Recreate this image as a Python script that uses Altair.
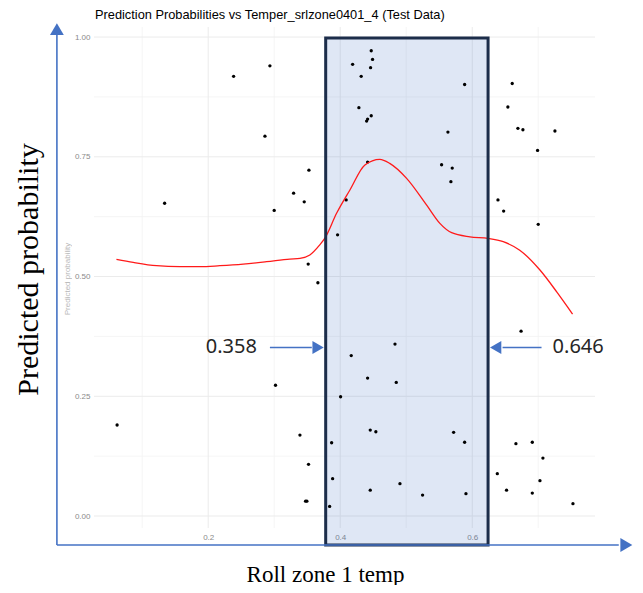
import altair as alt
import pandas as pd

# ---------------- data ----------------
pts_x = [0.062, 0.134, 0.2385, 0.2935, 0.286, 0.300, 0.302, 0.3294, 0.339, 0.3455,
         0.3475, 0.3495, 0.3515, 0.352, 0.3526, 0.3662, 0.384, 0.387, 0.3885, 0.396,
         0.4006, 0.409, 0.4167, 0.4188, 0.4283, 0.4318, 0.440, 0.4415, 0.4415, 0.4415,
         0.4455, 0.4455, 0.446, 0.447, 0.447, 0.449, 0.454, 0.483, 0.4849, 0.4905,
         0.5248, 0.5536, 0.5632, 0.5677, 0.5697, 0.5718, 0.5885, 0.5885, 0.5905, 0.638,
         0.639, 0.6476, 0.652, 0.654, 0.6606, 0.6662, 0.6692, 0.674, 0.6768, 0.691,
         0.691, 0.699, 0.700, 0.7026, 0.7071, 0.7253, 0.7526]
pts_y = [0.190, 0.653, 0.918, 0.940, 0.793, 0.638, 0.273, 0.674, 0.169, 0.656,
         0.031, 0.031, 0.526, 0.108, 0.722, 0.487, 0.020, 0.153, 0.078, 0.587,
         0.249, 0.660, 0.335, 0.943, 0.8525, 0.918, 0.8246, 0.8288, 0.739, 0.288,
         0.1795, 0.054, 0.936, 0.9714, 0.8357, 0.9534, 0.176, 0.359, 0.279, 0.0675,
         0.0438, 0.7334, 0.8017, 0.698, 0.7265, 0.1747, 0.901, 0.154, 0.0466, 0.0884,
         0.660, 0.6367, 0.054, 0.854, 0.903, 0.151, 0.8094, 0.386, 0.8065, 0.154,
         0.048, 0.7634, 0.609, 0.0738, 0.121, 0.8038, 0.0257]

smooth_x = [0.061, 0.0864, 0.1218, 0.157, 0.1874, 0.2177, 0.253, 0.2885, 0.3238, 0.339,
            0.354, 0.369, 0.3768, 0.3945, 0.4147, 0.4374, 0.460, 0.475, 0.5006, 0.531,
            0.551, 0.5688, 0.5965, 0.624, 0.647, 0.672, 0.7026, 0.728, 0.752]
smooth_y = [0.536, 0.5296, 0.5226, 0.5205, 0.5205, 0.5226, 0.526, 0.531, 0.5365, 0.538,
            0.545, 0.566, 0.580, 0.632, 0.6806, 0.7328, 0.7446, 0.7363, 0.705, 0.649,
            0.611, 0.5915, 0.583, 0.5797, 0.5727, 0.555, 0.5136, 0.468, 0.4217]

x_major = [0.2, 0.4, 0.6]
x_minor = [0.1, 0.3, 0.5, 0.7]
y_major = [0.0, 0.25, 0.5, 0.75, 1.0]
y_minor = [0.125, 0.375, 0.625, 0.875]

# highlighted band (data units) and its annotation labels
band_x = [0.378, 0.624]
band_y = [-0.0605, 0.998]
band_labels = ["0.358", "0.646"]

TITLE = "Prediction Probabilities vs Temper_srlzone0401_4 (Test Data)"
X_TITLE = "Roll zone 1 temp"
Y_TITLE = "Predicted probability"

# ---------------- helpers ----------------
XS = alt.Scale(domain=[0.027, 0.786], nice=False, zero=False)
YS = alt.Scale(domain=[-0.025, 1.021], nice=False, zero=False)
BLUE = "#4472c4"
W, H = 501, 501

x_axis = alt.Axis(values=x_major, format=".1f", grid=False, ticks=False, domain=False,
                  labelColor="#8a8a8a", labelFontSize=8, labelFont="Liberation Sans",
                  labelPadding=5, title=X_TITLE, titleFont="Liberation Serif",
                  titleFontSize=23, titleFontWeight="normal", titleColor="black",
                  titleX=231, titleY=46, titleBaseline="middle", titleAlign="center")
y_axis = alt.Axis(values=y_major, format=".2f", grid=False, ticks=False, domain=False,
                  labelColor="#8a8a8a", labelFontSize=8, labelFont="Liberation Sans",
                  labelPadding=4, title=Y_TITLE, titleFont="Liberation Serif",
                  titleFontSize=30, titleFontWeight="normal", titleColor="black",
                  titleX=-66, titleY=242, titleAngle=270, titleBaseline="middle",
                  titleAlign="center")


def X(field):
    return alt.X(f"{field}:Q", scale=XS, axis=x_axis)


def Y(field):
    return alt.Y(f"{field}:Q", scale=YS, axis=y_axis)


pts = pd.DataFrame({"x": pts_x, "y": pts_y})
smooth = pd.DataFrame({"x": smooth_x, "y": smooth_y})

grid_xmaj = alt.Chart(pd.DataFrame({"x": x_major})).mark_rule(color="#ebebeb", strokeWidth=1).encode(x=X("x"))
grid_xmin = alt.Chart(pd.DataFrame({"x": x_minor})).mark_rule(color="#f3f3f3", strokeWidth=0.8).encode(x=X("x"))
grid_ymaj = alt.Chart(pd.DataFrame({"y": y_major})).mark_rule(color="#ebebeb", strokeWidth=1).encode(y=Y("y"))
grid_ymin = alt.Chart(pd.DataFrame({"y": y_minor})).mark_rule(color="#f3f3f3", strokeWidth=0.8).encode(y=Y("y"))

band_df = pd.DataFrame({"x0": [band_x[0]], "x1": [band_x[1]], "y0": [band_y[0]], "y1": [band_y[1]]})
band_fill = alt.Chart(band_df).mark_rect(fill=BLUE, fillOpacity=0.17, clip=False).encode(
    x=X("x0"), x2="x1", y=Y("y0"), y2="y1")
band_stroke = alt.Chart(band_df).mark_rect(fillOpacity=0, stroke="#1c2d4a", strokeWidth=3,
                                           clip=False).encode(
    x=X("x0"), x2="x1", y=Y("y0"), y2="y1")

points = alt.Chart(pts).mark_circle(color="black", size=11, opacity=1).encode(x=X("x"), y=Y("y"))

line = alt.Chart(smooth).mark_line(color="#ff1a1a", strokeWidth=1.3,
                                   interpolate="monotone").encode(x=X("x"), y=Y("y"))

# decorative axis arrows and annotation arrows (data units)
arrow_lines = pd.DataFrame({
    "x0": [-0.0292, -0.0292, 0.2935, 0.705],
    "x1": [-0.0292, 0.822, 0.357, 0.646],
    "y0": [-0.0605, -0.0605, 0.352, 0.352],
    "y1": [1.005, -0.0605, 0.352, 0.352],
})
arrow_heads = pd.DataFrame({
    "x": [-0.0292, 0.8335, 0.3665, 0.6355],
    "y": [1.0165, -0.0605, 0.352, 0.352],
    "shape": ["triangle-up", "triangle-right", "triangle-right", "triangle-left"],
    "s": [190, 190, 170, 170],
})
arrows = alt.Chart(arrow_lines).mark_rule(color=BLUE, strokeWidth=1.6, clip=False).encode(
    x=X("x0"), x2="x1", y=Y("y0"), y2="y1")
heads = alt.Chart(arrow_heads).mark_point(filled=True, color=BLUE, opacity=1, clip=False).encode(
    x=X("x"), y=Y("y"), shape=alt.Shape("shape:N", scale=None), size=alt.Size("s:Q", scale=None))

ann = pd.DataFrame({"x": [0.2738, 0.7218], "y": [0.352, 0.352], "t": band_labels})
ann_left = alt.Chart(ann.iloc[[0]]).mark_text(align="right", baseline="middle", font="Noto Sans",
                                              fontSize=20, color="#262626", clip=False).encode(
    x=X("x"), y=Y("y"), text="t:N")
ann_right = alt.Chart(ann.iloc[[1]]).mark_text(align="left", baseline="middle", font="Noto Sans",
                                               fontSize=20, color="#262626", clip=False).encode(
    x=X("x"), y=Y("y"), text="t:N")

# faint original small y-axis title
small_title = alt.Chart(pd.DataFrame({"t": [Y_TITLE]})).mark_text(
    angle=270, fontSize=8, font="Liberation Sans", color="#9a9a9a", opacity=0.7,
    baseline="middle", align="center").encode(
    x=alt.value(-26), y=alt.value(252), text="t:N")

chart = alt.layer(
    grid_xmin, grid_ymin, grid_xmaj, grid_ymaj, band_fill, points, line, band_stroke,
    arrows, heads, ann_left, ann_right, small_title
).properties(
    width=W, height=H,
    title=alt.TitleParams(TITLE, anchor="start", frame="group", font="Liberation Sans",
                          fontSize=12.8, fontWeight="normal", color="black", offset=1, dx=1),
    padding={"left": 86, "top": 19, "right": 40, "bottom": 57},
    autosize=alt.AutoSizeParams(type="none"),
).configure(background="white").configure_view(stroke=None)

chart.save("out.html", embed_options={"renderer": "svg", "actions": False})
